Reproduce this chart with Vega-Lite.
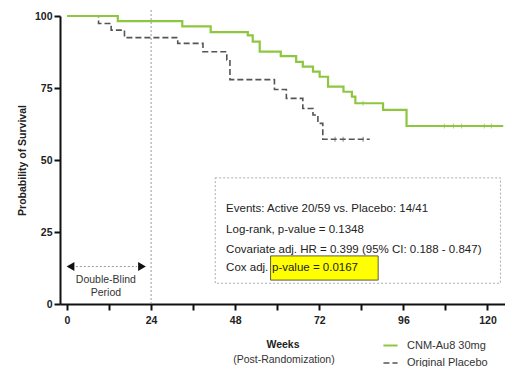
{
  "$schema": "https://vega.github.io/schema/vega-lite/v6.json",
  "autosize": {"type": "none"},
  "padding": {"left": 60, "top": 16, "right": 0, "bottom": 63},
  "width": 445,
  "height": 288,
  "background": "white",
  "config": {
    "view": {"stroke": null},
    "font": "Liberation Sans",
    "axis": {
      "grid": false,
      "domainColor": "#111",
      "domainWidth": 2,
      "tickColor": "#111",
      "tickWidth": 2,
      "tickSize": 6,
      "labelFont": "Liberation Sans",
      "labelFontWeight": "bold",
      "labelFontSize": 10.5,
      "labelColor": "#222",
      "titleFont": "Liberation Sans",
      "titleFontWeight": "bold",
      "titleFontSize": 10.5,
      "titleColor": "#222"
    }
  },
  "datasets": {
    "km": [
      {"arm": "Original Placebo", "week": 0, "surv": 100},
      {"arm": "Original Placebo", "week": 9, "surv": 97.4},
      {"arm": "Original Placebo", "week": 12.6, "surv": 95.1},
      {"arm": "Original Placebo", "week": 16.4, "surv": 92.5},
      {"arm": "Original Placebo", "week": 31.6, "surv": 90.5},
      {"arm": "Original Placebo", "week": 38.8, "surv": 87.6},
      {"arm": "Original Placebo", "week": 45.6, "surv": 84.7},
      {"arm": "Original Placebo", "week": 46.5, "surv": 77.9},
      {"arm": "Original Placebo", "week": 59.2, "surv": 74.5},
      {"arm": "Original Placebo", "week": 62.6, "surv": 71.4},
      {"arm": "Original Placebo", "week": 67.3, "surv": 67.9},
      {"arm": "Original Placebo", "week": 70.2, "surv": 65.6},
      {"arm": "Original Placebo", "week": 71.6, "surv": 62.7},
      {"arm": "Original Placebo", "week": 73, "surv": 57.2},
      {"arm": "Original Placebo", "week": 86.4, "surv": 57.2},
      {"arm": "CNM-Au8 30mg", "week": 0, "surv": 100},
      {"arm": "CNM-Au8 30mg", "week": 14.5, "surv": 98.2},
      {"arm": "CNM-Au8 30mg", "week": 32.9, "surv": 96.4},
      {"arm": "CNM-Au8 30mg", "week": 41, "surv": 94.4},
      {"arm": "CNM-Au8 30mg", "week": 51.6, "surv": 93.3},
      {"arm": "CNM-Au8 30mg", "week": 53, "surv": 91.1},
      {"arm": "CNM-Au8 30mg", "week": 55, "surv": 87.6},
      {"arm": "CNM-Au8 30mg", "week": 61, "surv": 86.1},
      {"arm": "CNM-Au8 30mg", "week": 65.4, "surv": 84.1},
      {"arm": "CNM-Au8 30mg", "week": 67.3, "surv": 82.4},
      {"arm": "CNM-Au8 30mg", "week": 70.2, "surv": 80.7},
      {"arm": "CNM-Au8 30mg", "week": 72.1, "surv": 78.9},
      {"arm": "CNM-Au8 30mg", "week": 74.5, "surv": 75.5},
      {"arm": "CNM-Au8 30mg", "week": 78.9, "surv": 73.7},
      {"arm": "CNM-Au8 30mg", "week": 81.3, "surv": 72.0},
      {"arm": "CNM-Au8 30mg", "week": 82.3, "surv": 69.7},
      {"arm": "CNM-Au8 30mg", "week": 90.2, "surv": 67.4},
      {"arm": "CNM-Au8 30mg", "week": 96.9, "surv": 61.8},
      {"arm": "CNM-Au8 30mg", "week": 124.5, "surv": 61.8}
    ],
    "censored": [
      {"arm": "Original Placebo", "week": 76.5, "surv": 57.2},
      {"arm": "Original Placebo", "week": 78.8, "surv": 57.2},
      {"arm": "Original Placebo", "week": 84.5, "surv": 57.2},
      {"arm": "CNM-Au8 30mg", "week": 84.5, "surv": 69.7},
      {"arm": "CNM-Au8 30mg", "week": 107.7, "surv": 61.8},
      {"arm": "CNM-Au8 30mg", "week": 110.3, "surv": 61.8},
      {"arm": "CNM-Au8 30mg", "week": 112.6, "surv": 61.8},
      {"arm": "CNM-Au8 30mg", "week": 119.1, "surv": 61.8},
      {"arm": "CNM-Au8 30mg", "week": 121.1, "surv": 61.8}
    ],
    "statsBox": [{"x1": 42.3, "x2": 123.7, "y1": 7.2, "y2": 43.8}],
    "highlight": [{"x1": 58.1, "x2": 88.8, "y1": 8.3, "y2": 16.7}],
    "statsText": [
      {"week": 45.4, "surv": 33.0, "text": "Events: Active 20/59 vs. Placebo: 14/41"},
      {"week": 45.4, "surv": 25.7, "text": "Log-rank, p-value = 0.1348"},
      {"week": 45.4, "surv": 18.8, "text": "Covariate adj. HR = 0.399 (95% CI: 0.188 - 0.847)"},
      {"week": 45.4, "surv": 12.5, "text": "Cox adj."},
      {"week": 58.5, "surv": 12.5, "text": "p-value = 0.0167"}
    ],
    "periodText": [
      {"week": 11.1, "surv": 8.3, "text": "Double-Blind"},
      {"week": 11.1, "surv": 3.9, "text": "Period"}
    ],
    "arrowHeads": [
      {"week": 1.0, "surv": 13, "shape": "triangle-left"},
      {"week": 21.4, "surv": 13, "shape": "triangle-right"}
    ]
  },
  "layer": [
    {
      "data": {"values": [{"week": 24, "top": 102.8, "bottom": 0}]},
      "mark": {"type": "rule", "color": "#999", "strokeWidth": 1, "strokeDash": [2, 2]},
      "encoding": {
        "x": {"field": "week", "type": "quantitative"},
        "y": {"field": "bottom", "type": "quantitative"},
        "y2": {"field": "top"}
      }
    },
    {
      "data": {"name": "statsBox"},
      "mark": {"type": "rect", "fill": "white", "stroke": "#aaa", "strokeWidth": 1, "strokeDash": [2, 2]},
      "encoding": {
        "x": {"field": "x1", "type": "quantitative"},
        "x2": {"field": "x2"},
        "y": {"field": "y1", "type": "quantitative"},
        "y2": {"field": "y2"}
      }
    },
    {
      "data": {"name": "highlight"},
      "mark": {"type": "rect", "fill": "#ffff00", "stroke": "#333", "strokeWidth": 0.8},
      "encoding": {
        "x": {"field": "x1", "type": "quantitative"},
        "x2": {"field": "x2"},
        "y": {"field": "y1", "type": "quantitative"},
        "y2": {"field": "y2"}
      }
    },
    {
      "data": {"name": "statsText"},
      "mark": {"type": "text", "align": "left", "baseline": "middle", "fontSize": 11.5, "color": "#222"},
      "encoding": {
        "x": {"field": "week", "type": "quantitative"},
        "y": {"field": "surv", "type": "quantitative"},
        "text": {"field": "text"}
      }
    },
    {
      "data": {"values": [{"from": 2.5, "to": 20, "surv": 13}]},
      "mark": {"type": "rule", "color": "#999", "strokeWidth": 1, "strokeDash": [2, 2]},
      "encoding": {
        "x": {"field": "from", "type": "quantitative"},
        "x2": {"field": "to"},
        "y": {"field": "surv", "type": "quantitative"}
      }
    },
    {
      "data": {"name": "arrowHeads"},
      "mark": {"type": "point", "filled": true, "color": "#111", "size": 80, "opacity": 1},
      "encoding": {
        "x": {"field": "week", "type": "quantitative"},
        "y": {"field": "surv", "type": "quantitative"},
        "shape": {"field": "shape", "type": "nominal", "scale": null}
      }
    },
    {
      "data": {"name": "periodText"},
      "mark": {"type": "text", "align": "center", "baseline": "middle", "fontSize": 10.5, "color": "#333"},
      "encoding": {
        "x": {"field": "week", "type": "quantitative"},
        "y": {"field": "surv", "type": "quantitative"},
        "text": {"field": "text"}
      }
    },
    {
      "data": {"values": [{"week": 61.9, "surv": -19.6, "text": "(Post-Randomization)"}]},
      "mark": {"type": "text", "align": "center", "baseline": "middle", "fontSize": 10.5, "color": "#333"},
      "encoding": {
        "x": {"field": "week", "type": "quantitative"},
        "y": {"field": "surv", "type": "quantitative"},
        "text": {"field": "text"}
      }
    },
    {
      "data": {"name": "km"},
      "mark": {"type": "line", "interpolate": "step-after"},
      "encoding": {
        "x": {
          "field": "week",
          "type": "quantitative",
          "scale": {"domain": [-2, 125], "nice": false, "zero": false},
          "axis": {
            "values": [0, 12, 24, 36, 48, 60, 72, 84, 96, 108, 120],
            "labelExpr": "datum.value % 24 == 0 ? datum.label : ''",
            "labelPadding": 5,
            "title": "Weeks",
            "titlePadding": 14
          }
        },
        "y": {
          "field": "surv",
          "type": "quantitative",
          "scale": {"domain": [0, 100], "nice": false},
          "axis": {
            "values": [0, 12.5, 25, 37.5, 50, 62.5, 75, 87.5, 100],
            "labelExpr": "datum.value % 25 == 0 ? datum.label : ''",
            "labelPadding": 2,
            "title": "Probability of Survival",
            "titlePadding": 7
          }
        },
        "color": {
          "field": "arm",
          "type": "nominal",
          "scale": {"domain": ["CNM-Au8 30mg", "Original Placebo"], "range": ["#8dc63f", "#555555"]},
          "legend": {
            "orient": "none",
            "legendX": 322,
            "legendY": 321,
            "title": null,
            "symbolType": "stroke",
            "symbolSize": 200,
            "symbolStrokeWidth": 2,
            "labelFontSize": 11,
            "labelColor": "#333",
            "labelFont": "Liberation Sans",
            "labelOffset": 8,
            "rowPadding": 4
          }
        },
        "strokeDash": {
          "field": "arm",
          "type": "nominal",
          "scale": {"domain": ["CNM-Au8 30mg", "Original Placebo"], "range": [[1, 0], [6, 3]]},
          "legend": null
        },
        "strokeWidth": {
          "field": "arm",
          "type": "nominal",
          "scale": {"domain": ["CNM-Au8 30mg", "Original Placebo"], "range": [2.2, 1.6]},
          "legend": null
        },
        "order": {"field": "arm", "sort": "descending"}
      }
    },
    {
      "data": {"name": "censored"},
      "mark": {"type": "tick", "orient": "vertical", "size": 5, "thickness": 1},
      "encoding": {
        "x": {"field": "week", "type": "quantitative"},
        "y": {"field": "surv", "type": "quantitative"},
        "color": {"field": "arm", "type": "nominal", "legend": null}
      }
    }
  ]
}
